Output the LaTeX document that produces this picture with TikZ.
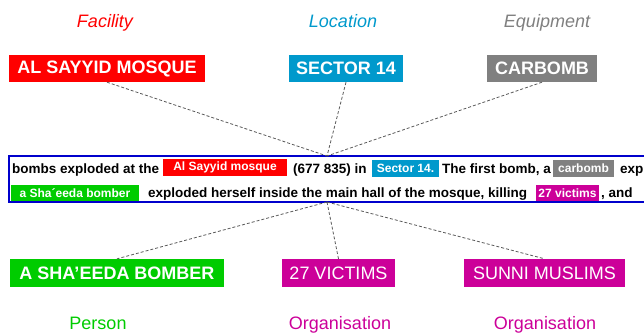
\documentclass[tikz,border=0pt]{standalone}
\usepackage{fontspec}
\setmainfont{Liberation Sans}
\definecolor{facred}{RGB}{255,0,0}
\definecolor{loccyan}{RGB}{0,153,204}
\definecolor{eqgrey}{RGB}{128,128,128}
\definecolor{pergreen}{RGB}{0,204,0}
\definecolor{orgmag}{RGB}{204,0,153}
\definecolor{framblue}{RGB}{0,0,204}
\begin{document}
\begin{tikzpicture}[x=1pt,y=-1pt,
  typelabel/.style={font=\fontsize{18}{20}\selectfont, inner sep=0pt, anchor=base},
  entbox/.style={fill=#1, text=white, inner sep=0pt, minimum height=27pt,
    font=\fontsize{18}{20}\selectfont},
  inbox/.style={fill=#1, text=white, inner sep=0pt, minimum height=17pt,
    font=\fontsize{12}{14}\selectfont\bfseries},
  plain/.style={anchor=base west, inner sep=0pt,
    font=\fontsize{13.5}{15}\selectfont\bfseries},
  link/.style={draw=black!65, line width=0.8pt, dash pattern=on 3pt off 2pt}]
\useasboundingbox (0,0) rectangle (644,333);

% entity type labels
\node[typelabel, text=facred, font=\fontsize{18}{20}\selectfont\itshape] (tfac) at (105,27) {Facility};
\node[typelabel, text=loccyan, font=\fontsize{18}{20}\selectfont\itshape] (tloc) at (343,27) {Location};
\node[typelabel, text=eqgrey, font=\fontsize{18}{20}\selectfont\itshape] (teq) at (547,27) {Equipment};
\node[typelabel, text=pergreen] (tper) at (98,329) {Person};
\node[typelabel, text=orgmag] (tvic) at (340,329) {Organisation};
\node[typelabel, text=orgmag] (tsun) at (545,329) {Organisation};

% extracted entities
\node[entbox=facred, minimum width=196pt, font=\fontsize{18}{20}\selectfont\bfseries] (fac) at (107,68.5) {AL SAYYID MOSQUE};
\node[entbox=loccyan, minimum width=114pt, font=\fontsize{18}{20}\selectfont\bfseries] (loc) at (346,68.5) {SECTOR 14};
\node[entbox=eqgrey, minimum width=110pt, font=\fontsize{18}{20}\selectfont\bfseries] (eq) at (542,68.5) {CARBOMB};
\node[entbox=pergreen, minimum width=214pt, minimum height=28pt, font=\fontsize{18}{20}\selectfont\bfseries] (per) at (117,273) {A SHA’EEDA BOMBER};
\node[entbox=orgmag, minimum width=113pt, minimum height=28pt] (vic) at (338.5,273) {27 VICTIMS};
\node[entbox=orgmag, minimum width=161pt, minimum height=28pt] (sun) at (544.5,273) {SUNNI MUSLIMS};

% source text frame (open on the right)
\draw[framblue, line width=2pt] (644,156) -- (9,156) -- (9,202) -- (644,202);
\coordinate (hubtop) at (327,156);
\coordinate (hubbot) at (327,202);

% first line of the annotated text
\node[plain] (l1a) at (12,173) {bombs exploded at the};
\node[inbox=facred, minimum width=124pt] (facin) at (225,167.5) {Al Sayyid mosque};
\node[plain] (l1b) at (293,173) {(677 835) in};
\node[inbox=loccyan, minimum width=67pt] (locin) at (405.5,168) {Sector 14.};
\node[plain] (l1c) at (442,173) {The first bomb, a};
\node[inbox=eqgrey, minimum width=61pt] (eqin) at (583.5,168) {carbomb};
\node[plain] (l1d) at (620,173) {exp};

% second line of the annotated text
\node[inbox=pergreen, minimum width=128pt, minimum height=16pt] (perin) at (75,193) {a Sha´eeda bomber};
\node[plain] (l2a) at (148,197.5) {exploded herself inside the main hall of the mosque, killing};
\node[inbox=orgmag, minimum width=63pt, minimum height=16pt] (vicin) at (567.5,193) {27 victims};
\node[plain] (l2b) at (601,197.5) {, and};

% links from the text to the entities
\draw[link] (fac.south) -- (hubtop);
\draw[link] (loc.south) -- (hubtop);
\draw[link] (eq.south) -- (hubtop);
\draw[link] (hubbot) -- (per.north);
\draw[link] (hubbot) -- (vic.north);
\draw[link] (hubbot) -- (sun.north);
\end{tikzpicture}
\end{document}
